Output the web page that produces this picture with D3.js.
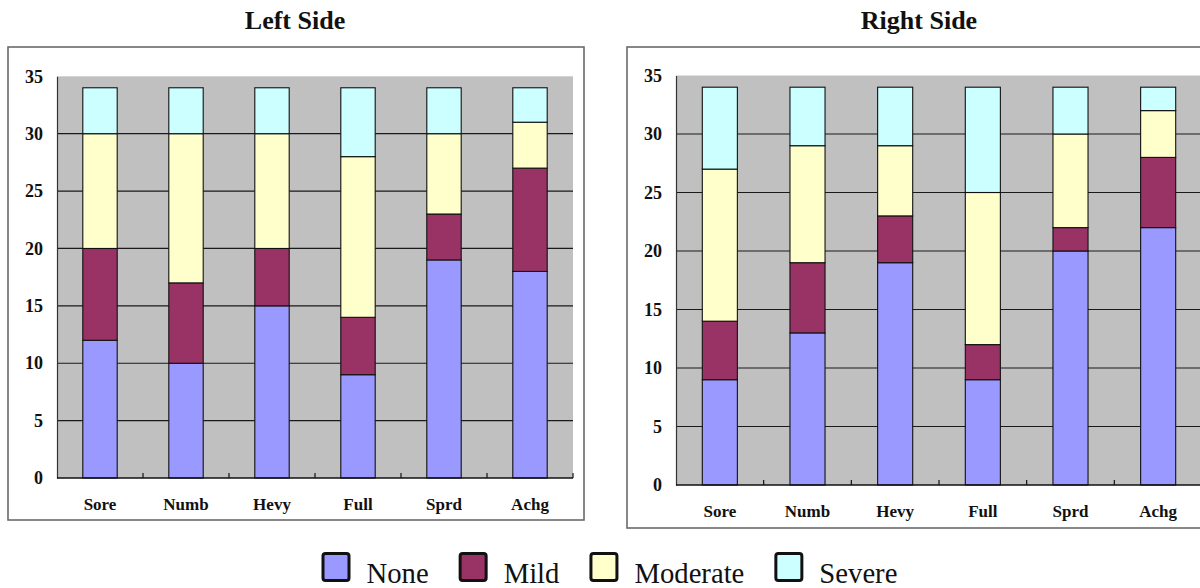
<!DOCTYPE html>
<html>
<head>
<meta charset="utf-8">
<script src="https://cdn.jsdelivr.net/npm/d3@7/dist/d3.min.js"></script>
<style>
  html, body { margin: 0; padding: 0; background: #fff; }
  svg { display: block; }
</style>
</head>
<body>
<svg id="chart" width="1200" height="588"></svg>
<script>
// Symptom categories and severity levels
const categories = ["Sore", "Numb", "Hevy", "Full", "Sprd", "Achg"];
const levels = ["None", "Mild", "Moderate", "Severe"];
const levelColors = ["#9999FF", "#993366", "#FFFFCC", "#CCFFFF"];
const yTicks = [0, 5, 10, 15, 20, 25, 30, 35];

// Left side counts per level
const leftNone     = [12, 10, 15, 9, 19, 18];
const leftMild     = [8, 7, 5, 5, 4, 9];
const leftModerate = [10, 13, 10, 14, 7, 4];
const leftSevere   = [4, 4, 4, 6, 4, 3];

// Right side counts per level
const rightNone     = [9, 13, 19, 9, 20, 22];
const rightMild     = [5, 6, 4, 3, 2, 6];
const rightModerate = [13, 10, 6, 13, 8, 4];
const rightSevere   = [7, 5, 5, 9, 4, 2];

const SERIF = "'Liberation Serif', 'Times New Roman', serif";
const svg = d3.select("#chart");

function rows(none, mild, moderate, severe) {
  return categories.map((c, i) => ({
    cat: c, None: none[i], Mild: mild[i], Moderate: moderate[i], Severe: severe[i]
  }));
}

const panels = [
  { title: "Left Side", titleX: 295, data: rows(leftNone, leftMild, leftModerate, leftSevere),
    box: { x: 8, y: 47, w: 576, h: 473 },
    plot: { x0: 57, x1: 573, y0: 76.3, y1: 478 }, xLabelY: 510 },
  { title: "Right Side", titleX: 919, data: rows(rightNone, rightMild, rightModerate, rightSevere),
    box: { x: 627, y: 47, w: 600, h: 481 },
    plot: { x0: 676, x1: 1202, y0: 75.5, y1: 485 }, xLabelY: 517 }
];

const stack = d3.stack().keys(levels);

panels.forEach(p => {
  const g = svg.append("g");

  // chart title
  g.append("text")
    .attr("x", p.titleX).attr("y", 29)
    .attr("text-anchor", "middle")
    .style("font-family", SERIF).style("font-size", "26px").style("font-weight", "bold")
    .style("fill", "#111")
    .text(p.title);

  // outer frame
  g.append("rect")
    .attr("x", p.box.x).attr("y", p.box.y)
    .attr("width", p.box.w).attr("height", p.box.h)
    .attr("fill", "#fff").attr("stroke", "#6a6a6a").attr("stroke-width", 1.6);

  const x = d3.scaleBand().domain(categories)
    .range([p.plot.x0, p.plot.x1])
    .paddingInner(0.6).paddingOuter(0.3);
  const y = d3.scaleLinear().domain([0, 35]).range([p.plot.y1, p.plot.y0]);

  // plot background
  g.append("rect")
    .attr("x", p.plot.x0).attr("y", y(35))
    .attr("width", p.plot.x1 - p.plot.x0).attr("height", y(0) - y(35))
    .attr("fill", "#C0C0C0");

  // horizontal gridlines
  g.append("g").selectAll("line")
    .data(yTicks.filter(t => t > 0 && t < 35))
    .join("line")
    .attr("x1", p.plot.x0).attr("x2", p.plot.x1)
    .attr("y1", d => y(d)).attr("y2", d => y(d))
    .attr("stroke", "#1a1a1a").attr("stroke-width", 1.2);

  // y axis
  const yAxis = g.append("g")
    .attr("transform", `translate(${p.plot.x0},0)`)
    .call(d3.axisLeft(y).tickValues(yTicks).tickSize(0).tickPadding(14));
  yAxis.select(".domain").attr("stroke", "#333").attr("stroke-width", 1.2);
  yAxis.selectAll("text")
    .style("font-family", SERIF).style("font-size", "18px").style("font-weight", "bold")
    .style("fill", "#111");

  // stacked bars
  const series = stack(p.data);
  g.append("g").selectAll("g")
    .data(series)
    .join("g")
    .attr("fill", (d, i) => levelColors[i])
    .selectAll("rect")
    .data(d => d)
    .join("rect")
    .attr("x", d => x(d.data.cat))
    .attr("width", x.bandwidth())
    .attr("y", d => y(d[1]))
    .attr("height", d => y(d[0]) - y(d[1]))
    .attr("stroke", "#111").attr("stroke-width", 1.1);

  // x axis baseline with small inward ticks at category boundaries
  const step = x.step();
  const boundaries = categories.map((c, i) => p.plot.x0 + step * (i + 1));
  g.append("line")
    .attr("x1", p.plot.x0).attr("x2", p.plot.x1)
    .attr("y1", y(0)).attr("y2", y(0))
    .attr("stroke", "#111").attr("stroke-width", 1.3);
  g.append("g").selectAll("line")
    .data(boundaries)
    .join("line")
    .attr("x1", d => d).attr("x2", d => d)
    .attr("y1", y(0)).attr("y2", y(0) - 5)
    .attr("stroke", "#111").attr("stroke-width", 1.2);

  // category labels
  g.append("g").selectAll("text")
    .data(categories)
    .join("text")
    .attr("x", d => x(d) + x.bandwidth() / 2)
    .attr("y", p.xLabelY)
    .attr("text-anchor", "middle")
    .style("font-family", SERIF).style("font-size", "17px").style("font-weight", "bold")
    .style("fill", "#111")
    .text(d => d);
});

// legend
const legend = svg.append("g");
let lx = 323;
levels.forEach((lvl, i) => {
  legend.append("rect")
    .attr("x", lx).attr("y", 553.5)
    .attr("width", 26).attr("height", 27)
    .attr("rx", 2.5)
    .attr("fill", levelColors[i])
    .attr("stroke", "#111").attr("stroke-width", 3);
  const t = legend.append("text")
    .attr("x", lx + 43.5).attr("y", 583)
    .style("font-family", SERIF).style("font-size", "28.7px")
    .style("fill", "#111")
    .text(lvl);
  lx = lx + 43.5 + t.node().getComputedTextLength() + 31.5;
});
</script>
</body>
</html>
